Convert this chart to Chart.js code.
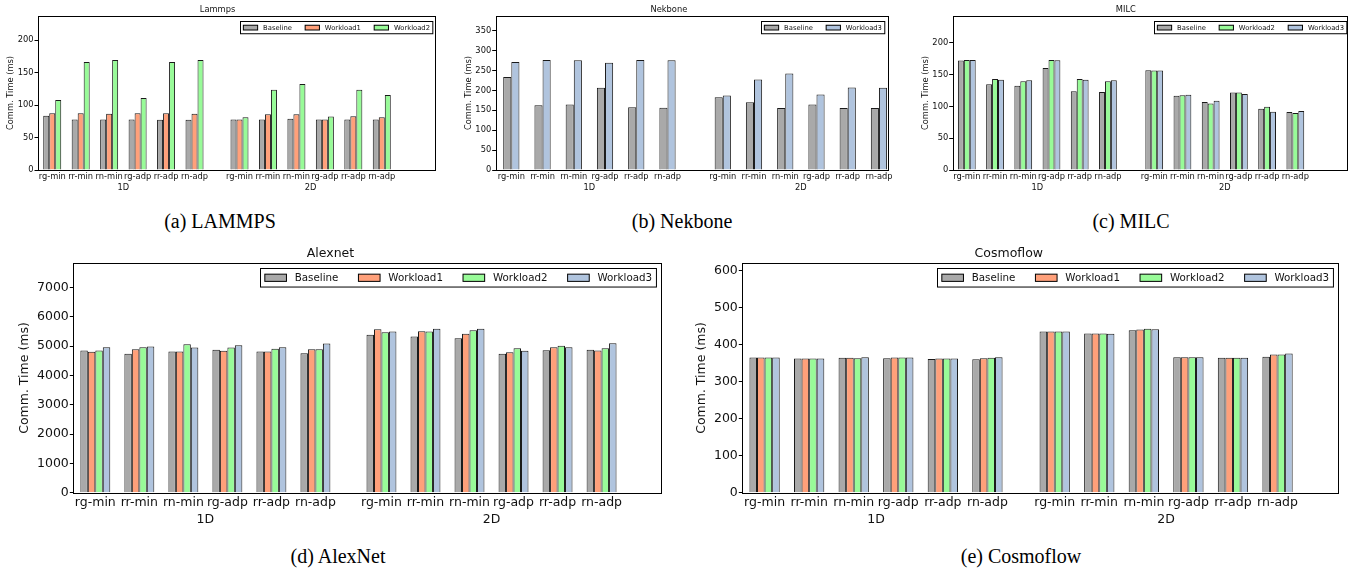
<!DOCTYPE html>
<html>
<head>
<meta charset="utf-8">
<script src="https://cdn.jsdelivr.net/npm/chart.js@4.4.0/dist/chart.umd.min.js"></script>
<style>
  body { margin: 0; background: #fff; width: 1357px; height: 569px; position: relative; overflow: hidden; }
  canvas { position: absolute; }
  .cap {
    position: absolute;
    font-family: "Liberation Serif", "Times New Roman", serif;
    font-size: 20px;
    color: #000;
    transform: translate(-50%, -50%);
    white-space: nowrap;
  }
</style>
</head>
<body>
<canvas id="lammps" width="450" height="200" style="left:0px;top:0px"></canvas>
<canvas id="nekbone" width="455" height="200" style="left:450px;top:0px"></canvas>
<canvas id="milc" width="452" height="200" style="left:905px;top:0px"></canvas>
<canvas id="alexnet" width="680" height="295" style="left:0px;top:240px"></canvas>
<canvas id="cosmoflow" width="677" height="295" style="left:680px;top:240px"></canvas>

<div class="cap" style="left:220px;top:221px">(a) LAMMPS</div>
<div class="cap" style="left:682px;top:221px">(b) Nekbone</div>
<div class="cap" style="left:1131px;top:221px">(c) MILC</div>
<div class="cap" style="left:338px;top:556px">(d) AlexNet</div>
<div class="cap" style="left:1021px;top:556px">(e) Cosmoflow</div>

<script>
// categories are repeated for each group (1D first, then 2D)
const categories = ["rg-min", "rr-min", "rn-min", "rg-adp", "rr-adp", "rn-adp"];
const groups = ["1D", "2D"];

// Lammps
const lammpsBaseline  = [83.5, 78, 78, 78, 77.3, 77.3,   78, 78, 78.9, 78, 78, 78];
const lammpsWorkload1 = [87.6, 87.6, 86.6, 87.6, 87.6, 86.6,   78, 86, 86, 78, 83, 81.4];
const lammpsWorkload2 = [108, 166.5, 169.6, 110.8, 166.5, 169.6,   81.4, 123.7, 132.5, 82.5, 123.7, 115.5];
const lammpsTicks = [0, 50, 100, 150, 200];

// Nekbone
const nekboneBaseline  = [233.6, 162.7, 164.4, 206.6, 157.7, 156.8,   183, 170.3, 156, 164.4, 156, 156];
const nekboneWorkload3 = [271.5, 276.6, 275.7, 269.8, 276.6, 275.7,   187.2, 227.7, 242.8, 189.7, 207.4, 206.6];
const nekboneTicks = [0, 50, 100, 150, 200, 250, 300, 350];

// MILC
const milcBaseline  = [172, 134.7, 132.6, 160.5, 123.7, 122.6,   156.8, 116.8, 106.8, 122, 96.3, 91];
const milcWorkload2 = [173, 143, 139.5, 173, 143, 139.5,   156.3, 117.4, 104.7, 122, 99.5, 89.5];
const milcWorkload3 = [173, 142, 141, 172.6, 142, 141,   156.3, 118.4, 109, 119.5, 91.6, 92.6];
const milcTicks = [0, 50, 100, 150, 200];

// Alexnet
const alexBaseline  = [4849, 4735, 4815, 4871, 4815, 4758,   5383, 5327, 5270, 4735, 4860, 4871];
const alexWorkload1 = [4803, 4894, 4815, 4837, 4815, 4894,   5577, 5509, 5418, 4792, 4962, 4849];
const alexWorkload2 = [4849, 4962, 5065, 4951, 4906, 4894,   5475, 5497, 5543, 4928, 5008, 4928];
const alexWorkload3 = [4962, 4985, 4951, 5031, 4962, 5088,   5497, 5588, 5588, 4837, 4962, 5099];
const alexTicks = [0, 1000, 2000, 3000, 4000, 5000, 6000, 7000];

// Cosmoflow
const cosmoBaseline  = [364.9, 362.5, 364, 363, 361, 360.4,   435, 429.7, 438.7, 365.8, 364, 366.7];
const cosmoWorkload1 = [364.9, 362, 364, 365, 362, 363,   435, 429.7, 440.5, 365.8, 364, 373];
const cosmoWorkload2 = [364.9, 362, 363, 365, 362, 364,   435, 429.7, 442.3, 365.8, 364, 373];
const cosmoWorkload3 = [364.9, 362.5, 365.8, 365, 362, 365.8,   435, 428.8, 441.4, 365.8, 364, 375.7];
const cosmoTicks = [0, 100, 200, 300, 400, 500, 600];

const colors = {
  Baseline: "#a9a9a9",
  Workload1: "#ffa07a",
  Workload2: "#98fb98",
  Workload3: "#b0c4de"
};
const FONT = '"DejaVu Sans", sans-serif';
const INK = "#111";

// frame, group labels and the in-plot legend
const decor = {
  id: "decor",
  afterDatasetsDraw(chart, args, o) {
    const { ctx, chartArea: a, scales: { x } } = chart;
    ctx.save();
    ctx.strokeStyle = "#000";
    ctx.lineWidth = 1;
    ctx.strokeRect(Math.round(a.left) + 0.5, Math.round(a.top) + 0.5,
      Math.round(a.right) - Math.round(a.left), Math.round(a.bottom) - Math.round(a.top));

    ctx.fillStyle = INK;
    ctx.font = o.size + "px " + FONT;
    ctx.textAlign = "center";
    ctx.textBaseline = "middle";
    groups.forEach((g, k) => {
      const c = x.getPixelForValue(k * o.gap + (categories.length - 1) / 2);
      ctx.fillText(g, c, a.bottom + o.groupDy);
    });

    const f = o.legendSize;
    ctx.font = f + "px " + FONT;
    const sw = 2.1 * f, sh = 0.7 * f, gap = 0.8 * f, col = 1.95 * f, pad = 0.42 * f, bh = 1.8 * f;
    const items = chart.data.datasets.map(d => ({ label: d.label, color: d.backgroundColor, w: ctx.measureText(d.label).width }));
    const total = pad * 2 + items.reduce((s, it) => s + sw + gap + it.w, 0) + col * (items.length - 1);
    const bx = Math.round(a.right - o.legendRight - total) + 0.5;
    const by = Math.round(a.top + o.legendTop) + 0.5;
    ctx.fillStyle = "#fff";
    ctx.fillRect(bx, by, total, bh);
    ctx.strokeRect(bx, by, total, bh);
    let cx = bx + pad;
    ctx.textAlign = "left";
    items.forEach(it => {
      ctx.fillStyle = it.color;
      ctx.fillRect(cx, by + bh / 2 - sh / 2, sw, sh);
      ctx.strokeRect(cx, by + bh / 2 - sh / 2, sw, sh);
      ctx.fillStyle = INK;
      ctx.fillText(it.label, cx + sw + gap, by + bh / 2 + 0.5);
      cx += sw + gap + it.w + col;
    });
    ctx.restore();
  }
};

function panel(id, title, series, yTicks, o) {
  const pos = [];
  groups.forEach((g, k) => categories.forEach((c, i) => pos.push(i + k * o.gap)));
  const all = [].concat(...series.map(s => s.data));
  const yMax = Math.max(...all) * 1.4;
  const font = { family: FONT, size: o.size };

  new Chart(document.getElementById(id), {
    type: "bar",
    data: {
      datasets: series.map(s => ({
        label: s.label,
        data: s.data.map((v, i) => ({ x: pos[i], y: v })),
        backgroundColor: colors[s.label],
        borderColor: "#1a1a1a",
        borderWidth: 1
      }))
    },
    plugins: [decor],
    options: {
      responsive: false,
      animation: false,
      layout: { padding: { left: 0, right: o.rightPad, top: 0, bottom: 0 } },
      datasets: { bar: { categoryPercentage: o.catPct, barPercentage: 1 } },
      plugins: {
        legend: { display: false },
        tooltip: { enabled: false },
        title: {
          display: true,
          text: title,
          color: INK,
          font: { family: FONT, size: o.size, weight: "normal" },
          padding: { top: o.titleTop, bottom: o.titleBottom }
        },
        decor: { size: o.size, gap: o.gap, groupDy: o.groupDy, legendSize: o.legendSize, legendRight: o.legendRight, legendTop: 5 }
      },
      scales: {
        x: {
          type: "linear",
          bounds: "data",
          min: -0.5,
          max: o.xMax,
          offset: false,
          grid: { display: false, drawTicks: false },
          border: { display: false },
          afterBuildTicks: s => { s.ticks = pos.map(v => ({ value: v })); },
          afterFit: s => { s.height = o.xH; },
          ticks: {
            autoSkip: false, maxRotation: 0, minRotation: 0,
            padding: o.xPad, color: INK, font,
            callback: (v, i) => categories[i % categories.length]
          }
        },
        y: {
          min: 0,
          max: yMax,
          bounds: "data",
          grid: { drawOnChartArea: false, drawTicks: true, tickLength: 3.5, color: "#000" },
          border: { display: false },
          afterBuildTicks: s => { s.ticks = yTicks.map(v => ({ value: v })); },
          afterFit: s => { s.width = o.yW; },
          ticks: { padding: 1, color: INK, font, callback: v => String(v) },
          title: {
            display: true,
            text: "Comm. Time (ms)",
            color: INK,
            font,
            padding: { top: o.yTitlePad, bottom: 0 }
          }
        }
      }
    }
  });
}

const topRow = { size: 8.3, legendSize: 6.8, titleTop: 5, titleBottom: 1, xH: 30, xPad: 2, groupDy: 18 };
const bottomRow = { size: 12.5, legendSize: 10.3, titleTop: 5.8, titleBottom: 2.5, xH: 42.3, xPad: 3, groupDy: 27.3 };

panel("lammps", "Lammps", [
  { label: "Baseline", data: lammpsBaseline },
  { label: "Workload1", data: lammpsWorkload1 },
  { label: "Workload2", data: lammpsWorkload2 }
], lammpsTicks, Object.assign({}, topRow, { gap: 6.58, xMax: 13.45, catPct: 0.633, yW: 38, rightPad: 15, yTitlePad: 6, legendRight: 3 }));

panel("nekbone", "Nekbone", [
  { label: "Baseline", data: nekboneBaseline },
  { label: "Workload3", data: nekboneWorkload3 }
], nekboneTicks, Object.assign({}, topRow, { gap: 6.77, xMax: 12.05, catPct: 0.52, yW: 45.7, rightPad: 17.3, yTitlePad: 14, legendRight: 3.7 }));

panel("milc", "MILC", [
  { label: "Baseline", data: milcBaseline },
  { label: "Workload2", data: milcWorkload2 },
  { label: "Workload3", data: milcWorkload3 }
], milcTicks, Object.assign({}, topRow, { gap: 6.64, xMax: 13.46, catPct: 0.63, yW: 47.7, rightPad: 10.3, yTitlePad: 16, legendRight: 0 }));

panel("alexnet", "Alexnet", [
  { label: "Baseline", data: alexBaseline },
  { label: "Workload1", data: alexWorkload1 },
  { label: "Workload2", data: alexWorkload2 },
  { label: "Workload3", data: alexWorkload3 }
], alexTicks, Object.assign({}, bottomRow, { gap: 6.5, xMax: 12.85, catPct: 0.68, yW: 73.3, rightPad: 19, yTitlePad: 17.5, legendRight: 5 }));

panel("cosmoflow", "Cosmoflow", [
  { label: "Baseline", data: cosmoBaseline },
  { label: "Workload1", data: cosmoWorkload1 },
  { label: "Workload2", data: cosmoWorkload2 },
  { label: "Workload3", data: cosmoWorkload3 }
], cosmoTicks, Object.assign({}, bottomRow, { gap: 6.51, xMax: 12.86, catPct: 0.68, yW: 62.3, rightPad: 19.3, yTitlePad: 14.2, legendRight: 5 }));
</script>
</body>
</html>
